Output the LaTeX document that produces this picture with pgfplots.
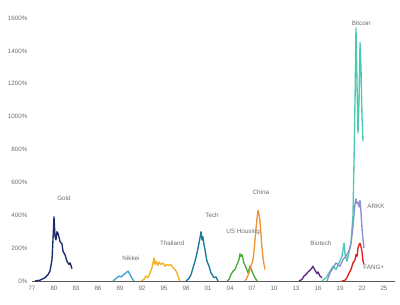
\documentclass[border=0pt]{standalone}
\usepackage{pgfplots}
\pgfplotsset{compat=1.18}
\usepackage{fontspec}
\setmainfont{Liberation Sans}
\definecolor{cgold}{HTML}{1B2A6B}
\definecolor{cnikkei}{HTML}{3AA6D8}
\definecolor{cthai}{HTML}{F0B323}
\definecolor{ctech}{HTML}{1A7A9A}
\definecolor{chouse}{HTML}{4AAA3A}
\definecolor{cchina}{HTML}{F0943A}
\definecolor{cbio}{HTML}{5C2A82}
\definecolor{cbtc}{HTML}{4CC9B0}
\definecolor{cark}{HTML}{8C8FD0}
\definecolor{cfang}{HTML}{E0201E}
\definecolor{txt}{HTML}{6E6E6E}
\begin{document}
\begin{tikzpicture}
\path[use as bounding box] (-32bp,-24bp) rectangle (368bp,281bp);
\begin{axis}[
  scale only axis, width=363bp, height=263bp,
  xmin=1977, xmax=2026.5, ymin=0, ymax=1600,
  axis lines*=left, y axis line style={draw=none},
  x axis line style={draw=black!65, line width=0.9pt},
  major tick length=0pt,
  xtick={1977,1980,...,2025},
  xticklabels={77,80,83,86,89,92,95,98,01,04,07,10,13,16,19,22,25},
  ytick={0,200,...,1600},
  yticklabels={0\%,200\%,400\%,600\%,800\%,1000\%,1200\%,1400\%,1600\%},
  tick label style={font=\fontsize{6.3}{7}\selectfont, text=txt},
  /pgf/number format/assume math mode=true,
  yticklabel style={xshift=-1bp},
  xticklabel style={yshift=-2bp},
  clip=false,
  every axis plot/.append style={line width=1.35pt, mark=none, line join=round},
]
\addplot[cgold] coordinates {(1977.41,0)(1978.09,5)(1978.77,20)(1979.2,40)(1979.45,60)(1979.73,130)(1979.86,250)(1980.0,390)(1980.14,270)(1980.27,250)(1980.41,300)(1980.55,290)(1980.82,240)(1981.09,225)(1981.23,180)(1981.5,160)(1981.77,120)(1982.05,100)(1982.2,110)(1982.45,75)};
\addplot[cnikkei] coordinates {(1988.05,0)(1988.45,15)(1988.86,30)(1989.14,25)(1989.55,40)(1989.95,55)(1990.1,60)(1990.36,40)(1990.64,15)(1990.9,0)};
\addplot[cthai] coordinates {(1991.86,0)(1992.27,10)(1992.55,30)(1992.82,20)(1993.1,50)(1993.36,80)(1993.5,110)(1993.64,140)(1993.77,100)(1993.9,120)(1994.18,95)(1994.3,115)(1994.6,100)(1994.86,110)(1995.14,90)(1995.4,100)(1995.7,95)(1995.95,100)(1996.23,80)(1996.5,70)(1996.77,50)(1997.05,10)(1997.18,0)};
\addplot[ctech] coordinates {(1998.0,0)(1998.4,15)(1998.7,40)(1998.95,80)(1999.23,120)(1999.5,170)(1999.77,230)(1999.9,260)(2000.05,300)(2000.18,250)(2000.3,270)(2000.45,220)(2000.6,190)(2000.73,150)(2000.86,120)(2001.14,90)(2001.4,50)(2001.55,40)(2001.82,20)(2002.1,25)(2002.36,0)};
\addplot[chouse] coordinates {(2003.6,0)(2003.87,10)(2004.14,40)(2004.41,60)(2004.68,70)(2004.95,100)(2005.23,130)(2005.36,165)(2005.5,150)(2005.64,160)(2005.9,110)(2006.2,80)(2006.45,50)(2006.6,70)(2006.73,90)(2007.0,60)(2007.27,30)(2007.55,10)(2007.7,0)};
\addplot[cchina] coordinates {(2006.05,0)(2006.32,20)(2006.6,50)(2006.86,90)(2007.14,130)(2007.27,180)(2007.41,250)(2007.55,320)(2007.68,380)(2007.82,430)(2007.95,410)(2008.1,360)(2008.23,280)(2008.36,200)(2008.5,140)(2008.64,100)(2008.77,70)};
\addplot[cbio] coordinates {(2013.41,0)(2013.82,10)(2014.1,30)(2014.36,40)(2014.64,55)(2014.9,65)(2015.18,80)(2015.3,90)(2015.6,65)(2015.86,45)(2016.0,55)(2016.27,30)(2016.55,20)};
\addplot[cbtc] coordinates {(2016.55,0)(2017.1,20)(2017.64,60)(2018.05,90)(2018.45,70)(2018.86,110)(2019.27,150)(2019.55,230)(2019.7,160)(2019.95,120)(2020.2,170)(2020.5,230)(2020.77,400)(2020.9,700)(2021.05,1100)(2021.18,1540)(2021.32,1200)(2021.45,900)(2021.6,1100)(2021.73,1450)(2021.86,1300)(2022.0,1000)(2022.14,850)};
\addplot[cark] coordinates {(2017.23,0)(2017.64,50)(2018.05,80)(2018.45,110)(2018.73,100)(2019.0,90)(2019.4,130)(2019.8,150)(2020.2,180)(2020.5,230)(2020.77,330)(2020.9,400)(2021.05,470)(2021.18,500)(2021.32,470)(2021.45,480)(2021.6,450)(2021.73,490)(2021.86,420)(2022.0,320)(2022.14,250)(2022.27,200)};
\addplot[cfang] coordinates {(2019.27,0)(2019.7,5)(2019.95,20)(2020.2,45)(2020.5,70)(2020.77,110)(2021.05,130)(2021.18,160)(2021.32,150)(2021.45,200)(2021.6,220)(2021.73,230)(2021.86,210)(2022.0,180)(2022.14,120)(2022.27,100)};
\begin{scope}[every node/.style={font=\fontsize{6.3}{7}\selectfont, text=txt, inner sep=0pt}]
\node at (axis cs:1981.36,505) {Gold};
\node at (axis cs:1990.5,140) {Nikkei};
\node at (axis cs:1996.1,231) {Thailand};
\node at (axis cs:2001.55,401) {Tech};
\node at (axis cs:2005.8,298) {US Housing};
\node at (axis cs:2008.2,541) {China};
\node at (axis cs:2016.4,231) {Biotech};
\node at (axis cs:2021.9,1570) {Bitcoin};
\node at (axis cs:2023.9,456) {ARKK};
\node at (axis cs:2023.6,85) {FANG+};
\end{scope}
\end{axis}
\end{tikzpicture}
\end{document}
